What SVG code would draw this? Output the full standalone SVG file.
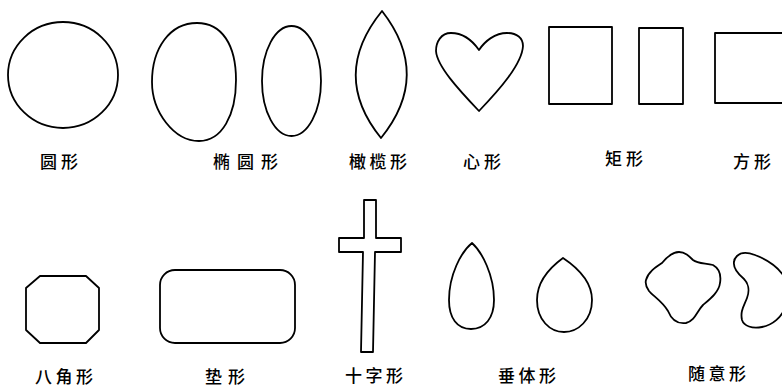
<svg xmlns="http://www.w3.org/2000/svg" width="782" height="388" viewBox="0 0 782 388">
<style>
.s{fill:none;stroke:#000;stroke-width:1.8;stroke-linejoin:round}
.t{font-family:"Noto Sans CJK SC","Noto Sans",sans-serif;font-size:17px;fill:#000;font-weight:500}
</style>
<rect width="782" height="388" fill="#fff"/>
<g id="circle">
<ellipse class="s" cx="63" cy="75" rx="55" ry="53"/>
<text class="t" x="40" y="168" letter-spacing="4">圆形</text>
</g>
<g id="oval">
<path class="s" d="M197,23 C222,23 236,45 236,80 C236,115 222,141 199,141 C174,141 152,112 152,82 C152,48 170,23 197,23 Z"/>
<ellipse class="s" cx="291.5" cy="81" rx="29.5" ry="55"/>
<text class="t" x="213" y="168" letter-spacing="7">椭圆形</text>
</g>
<g id="lens">
<path class="s" d="M382,11 Q432,75 381,138 Q330,75 382,11 Z"/>
<text class="t" x="349" y="168" letter-spacing="3.5">橄榄形</text>
</g>
<g id="heart">
<path class="s" d="M479,50 C472,40 462,33 451,33 C441,33 436,42 436,51 C437,66 458,89 479,111 C500,89 522,64 523,46 C523,38 517,33 507,33 C495,33 485,41 479,50 Z"/>
<text class="t" x="463" y="168" letter-spacing="4">心形</text>
</g>
<g id="rectangle">
<rect class="s" x="549" y="27" width="63" height="77"/>
<rect class="s" x="639" y="28" width="44" height="76"/>
<text class="t" x="605" y="165" letter-spacing="4">矩形</text>
</g>
<g id="square">
<rect class="s" x="715" y="33" width="75" height="70"/>
<text class="t" x="733" y="168" letter-spacing="4">方形</text>
</g>
<g id="octagon">
<polygon class="s" points="40,276 86,276 99,288 99,330 86,343 40,343 26,330 26,288"/>
<text class="t" x="35" y="383" letter-spacing="3.5">八角形</text>
</g>
<g id="cushion">
<rect class="s" x="160" y="270" width="135" height="73" rx="15" ry="15"/>
<text class="t" x="205" y="383" letter-spacing="6">垫形</text>
</g>
<g id="cross">
<polygon class="s" points="364,200 376,200 376,238 401,238 401,252 375,252 373,352 361,352 363,252 339,252 339,238 364,238"/>
<text class="t" x="345" y="382" letter-spacing="3.5">十字形</text>
</g>
<g id="pendant">
<path class="s" d="M472,243 C482,252 494,275 494,300 C494,318 485,329 471,329 C457,329 449,318 449,300 C449,275 461,252 472,243 Z"/>
<path class="s" d="M563,258 C575,266 592,280 592,300 C592,320 578,332 564,332 C550,332 537,320 537,300 C537,280 552,266 563,258 Z"/>
<text class="t" x="498" y="382" letter-spacing="3.5">垂体形</text>
</g>
<g id="freeform">
<path class="s" d="M646,280 C648,272 656,267 662,263 C667,257 672,252 679,252 C685,252 689,256 693,260 C698,264 706,263 713,265 C720,269 721,277 720,283 C719,292 710,299 703,305 C697,311 695,321 686,323 C679,324 672,321 668,311 C662,301 653,296 649,291 C646,287 645,284 646,280 Z"/>
<path class="s" d="M737,256 C741,252 747,252 755,255 C768,260 780,268 786,280 L786,305 C782,318 772,325 762,327 C752,329 744,326 742,320 C740,311 744,306 747,298 C750,290 748,283 744,279 C738,274 733,268 734,262 C734,260 735,258 737,256 Z"/>
<text class="t" x="688" y="380" letter-spacing="3.5">随意形</text>
</g>
</svg>
